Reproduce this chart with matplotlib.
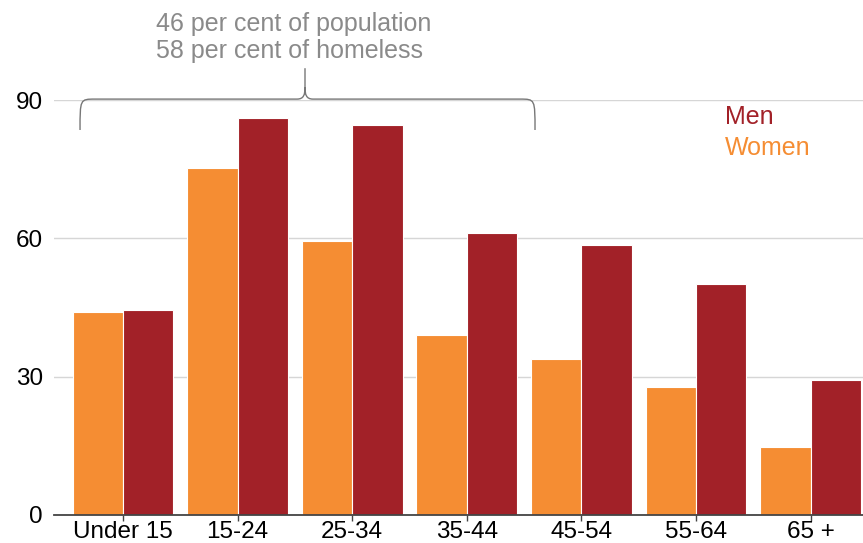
import numpy as np
import matplotlib
matplotlib.use("Agg")
import matplotlib.pyplot as plt
from matplotlib.path import Path
from matplotlib.patches import PathPatch

plt.rcParams['font.family'] = ['Liberation Sans', 'DejaVu Sans']

age_groups = ["Under 15", "15-24", "25-34", "35-44", "45-54", "55-64", "65 +"]
women = [44.0, 75.3, 59.4, 39.0, 33.8, 27.8, 14.7]
men = [44.5, 86.1, 84.6, 61.2, 58.6, 50.1, 29.3]
yticks = [0, 30, 60, 90]
note_lines = ["46 per cent of population", "58 per cent of homeless"]

women_color = "#F58D33"
men_color = "#A22128"
note_color = "#8a8a8a"

fig = plt.figure(figsize=(8.63, 5.43), dpi=100)
ax = fig.add_axes([0.0626, 0.0516, 0.9374, 0.7642])

x = np.arange(len(age_groups))
w = 0.44
ax.bar(x - w / 2, women, width=w, color=women_color, edgecolor="white", linewidth=0.8, zorder=3)
ax.bar(x + w / 2, men, width=w, color=men_color, edgecolor="white", linewidth=0.8, zorder=3)

ax.set_xlim(-0.602, 6.457)
ax.set_ylim(0, 90)
ax.set_yticks(yticks)
ax.set_xticks(x)
ax.set_xticklabels(age_groups)
ax.tick_params(axis="x", length=4, width=1, color="#444444", pad=0, labelsize=17.5)
ax.tick_params(axis="y", length=0, pad=8, labelsize=17.5)
ax.yaxis.grid(True, color="#d6d6d6", linewidth=1, zorder=0)
ax.set_axisbelow(True)
for s in ["top", "right", "left"]:
    ax.spines[s].set_visible(False)
ax.spines["bottom"].set_color("#444444")
ax.spines["bottom"].set_linewidth(1.3)
ax.spines["bottom"].set_zorder(4)

# legend as coloured text
ax.text(5.25, 86.3, "Men", color=men_color, fontsize=18, va="center", ha="left")
ax.text(5.25, 79.5, "Women", color=women_color, fontsize=18, va="center", ha="left")

# curly bracket over the first four groups
x0, x1, xm = -0.375, 3.595, 1.588
yb, yl, yt = 83.5, 90.2, 96.9
dx = 0.13
verts = [
    (x0, yb), (x0, yl), (x0, yl), (x0 + dx, yl),
    (xm - 0.07, yl),
    (xm - 0.01, yl), (xm, yl + 1.0), (xm, yl + 2.5),
    (xm, yt),
    (xm, yl + 2.5),
    (xm, yl + 1.0), (xm + 0.01, yl), (xm + 0.07, yl),
    (x1 - dx, yl),
    (x1, yl), (x1, yl), (x1, yb),
]
codes = [Path.MOVETO, Path.CURVE4, Path.CURVE4, Path.CURVE4,
         Path.LINETO,
         Path.CURVE4, Path.CURVE4, Path.CURVE4,
         Path.LINETO,
         Path.MOVETO,
         Path.CURVE4, Path.CURVE4, Path.CURVE4,
         Path.LINETO,
         Path.CURVE4, Path.CURVE4, Path.CURVE4]
ax.add_patch(PathPatch(Path(verts, codes), facecolor="none", edgecolor="#777777",
                       linewidth=1, clip_on=False, zorder=5))

ax.text(0.29, 98.0, note_lines[0] + "\n" + note_lines[1], color=note_color,
        fontsize=18, ha="left", va="bottom", linespacing=1.15)

fig.savefig("out.png", dpi=100)
